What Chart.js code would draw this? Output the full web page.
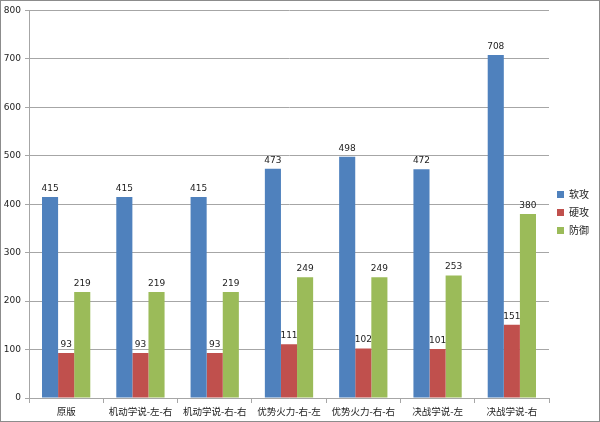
<!DOCTYPE html>
<html>
<head>
<meta charset="utf-8">
<script src="https://cdn.jsdelivr.net/npm/chart.js@4.4.0/dist/chart.umd.min.js"></script>
<style>
    html, body { margin: 0; padding: 0; background: #fff; }
    #wrap { width: 600px; height: 422px; box-sizing: border-box; border: 1px solid #8c8c8c; }
</style>
</head>
<body>
<div id="wrap"><canvas id="chart" width="598" height="420"></canvas></div>
<script>
// data
const categories = ['原版', '机动学说-左-右', '机动学说-右-右', '优势火力-右-左', '优势火力-右-右', '决战学说-左', '决战学说-右'];
const softAttack = [415, 415, 415, 473, 498, 472, 708];
const hardAttack = [93, 93, 93, 111, 102, 101, 151];
const defense = [219, 219, 219, 249, 249, 253, 380];

const cjkFont = '"Noto Sans CJK SC", "DejaVu Sans", sans-serif';

// label di atas bar
const valueLabels = {
    id: 'valueLabels',
    afterDatasetsDraw(chart) {
        const ctx = chart.ctx;
        ctx.save();
        ctx.font = '9px "DejaVu Sans", sans-serif';
        ctx.fillStyle = '#222';
        ctx.textAlign = 'center';
        ctx.textBaseline = 'bottom';
        chart.data.datasets.forEach((ds, i) => {
            chart.getDatasetMeta(i).data.forEach((bar, j) => {
                ctx.fillText(ds.data[j], bar.x, bar.y - 4);
            });
        });
        ctx.restore();
    }
};

new Chart(document.getElementById('chart').getContext('2d'), {
    type: 'bar',
    data: {
        labels: categories,
        datasets: [
            { label: '软攻', data: softAttack, backgroundColor: '#4f81bd' },
            { label: '硬攻', data: hardAttack, backgroundColor: '#c0504d' },
            { label: '防御', data: defense, backgroundColor: '#9bbb59' }
        ]
    },
    options: {
        responsive: false,
        animation: false,
        layout: { padding: { top: 3, right: 0, left: 0, bottom: 0 } },
        datasets: {
            bar: { barPercentage: 1, categoryPercentage: 0.65 }
        },
        plugins: {
            legend: {
                position: 'right',
                labels: {
                    boxWidth: 7,
                    boxHeight: 7,
                    padding: 8,
                    color: '#222',
                    font: { size: 10, family: cjkFont }
                }
            },
            tooltip: { enabled: false }
        },
        scales: {
            y: {
                min: 0,
                max: 800,
                afterFit: (scale) => { scale.width = 28; },
                ticks: {
                    stepSize: 100,
                    color: '#222',
                    padding: 4,
                    font: { size: 9, family: '"DejaVu Sans", sans-serif' }
                },
                grid: { color: '#a6a6a6', tickLength: 4 },
                border: { color: '#a6a6a6' }
            },
            x: {
                afterFit: (scale) => { scale.height = 23; },
                ticks: {
                    color: '#222',
                    padding: 3,
                    maxRotation: 0,
                    autoSkip: false,
                    font: { size: 9.5, family: cjkFont }
                },
                grid: { drawOnChartArea: false, color: '#a6a6a6', tickLength: 5 },
                border: { color: '#a6a6a6' }
            }
        }
    },
    plugins: [valueLabels]
});
</script>
</body>
</html>
